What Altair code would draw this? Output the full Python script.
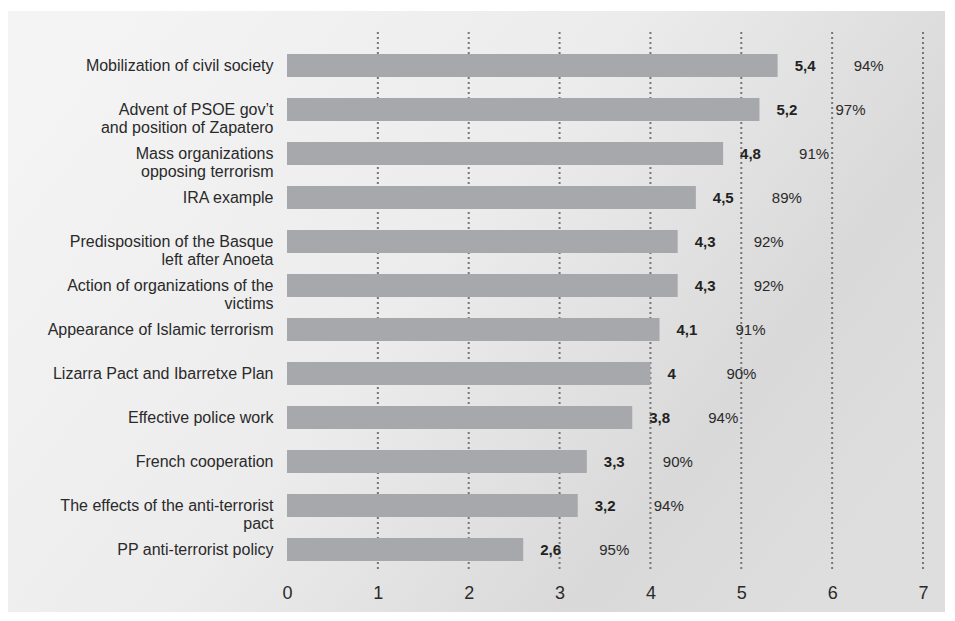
import altair as alt
import pandas as pd

# ---- data ----
categories = [
    "Mobilization of civil society",
    "Advent of PSOE gov’t|and position of Zapatero",
    "Mass organizations|opposing terrorism",
    "IRA example",
    "Predisposition of the Basque|left after Anoeta",
    "Action of organizations of the|victims",
    "Appearance of Islamic terrorism",
    "Lizarra Pact and Ibarretxe Plan",
    "Effective police work",
    "French cooperation",
    "The effects of the anti-terrorist|pact",
    "PP anti-terrorist policy",
]
scores = [5.4, 5.2, 4.8, 4.5, 4.3, 4.3, 4.1, 4.0, 3.8, 3.3, 3.2, 2.6]
percents = [94, 97, 91, 89, 92, 92, 91, 90, 94, 90, 94, 95]
x_ticks = [0, 1, 2, 3, 4, 5, 6, 7]
grid_ticks = [1, 2, 3, 4, 5, 6, 7]

df = pd.DataFrame({
    "cat": categories,
    "score": scores,
    "score_lbl": [f"{v:g}".replace(".", ",") for v in scores],
    "pct_lbl": [f"{p}%" for p in percents],
})
grid_df = pd.DataFrame({"tick": grid_ticks})

W, H = 636, 540
FONT = "Liberation Sans"

x_scale = alt.Scale(domain=[0, 7], nice=False, zero=True)
y_scale = alt.Scale(domain=categories, paddingInner=0.477, paddingOuter=0.375, align=0.667)

# decorative backdrop (photo-like gray gradient)
backdrop = alt.Chart(alt.Data(values=[{"a": 1}])).mark_rect(
    fill=alt.Gradient(
        gradient="linear",
        stops=[
            alt.GradientStop(color="#f4f4f4", offset=0),
            alt.GradientStop(color="#ececec", offset=0.45),
            alt.GradientStop(color="#d9d9d9", offset=0.8),
            alt.GradientStop(color="#dedede", offset=1),
        ],
        x1=0, y1=0.2, x2=1, y2=0.7,
    ),
    strokeWidth=0,
).encode(
    x=alt.value(-279), x2=alt.value(W + 22),
    y=alt.value(-21), y2=alt.value(H + 40),
)

grid = alt.Chart(grid_df).mark_rule(
    color="#777777", strokeWidth=2, strokeDash=[2, 3]
).encode(x=alt.X("tick:Q", scale=x_scale))

base = alt.Chart(df)

bars = base.mark_bar(color="#a7a8ab", cornerRadius=0).encode(
    x=alt.X(
        "score:Q", scale=x_scale, title=None,
        axis=alt.Axis(values=x_ticks, format="d", labelFlush=False,
                      grid=False, domain=False, ticks=False,
                      labelFontSize=18, labelColor="#2a2a2a", labelPadding=12,
                      labelFont=FONT, zindex=1),
    ),
    y=alt.Y(
        "cat:N", scale=y_scale, sort=None, title=None,
        axis=alt.Axis(domain=False, ticks=False, grid=False,
                      labelExpr="split(datum.label, '|')",
                      labelFontSize=16, labelColor="#2a2a2a", labelPadding=14,
                      labelLimit=400, labelLineHeight=18, labelFont=FONT, zindex=1),
    ),
)

score_text = base.mark_text(
    align="left", baseline="middle", dx=17, fontSize=15, fontWeight="bold",
    color="#222222", font=FONT,
).encode(x=alt.X("score:Q", scale=x_scale), y=alt.Y("cat:N", scale=y_scale, sort=None), text="score_lbl:N")

pct_text = base.mark_text(
    align="left", baseline="middle", dx=76, fontSize=15, color="#2a2a2a", font=FONT,
).encode(x=alt.X("score:Q", scale=x_scale), y=alt.Y("cat:N", scale=y_scale, sort=None), text="pct_lbl:N")

chart = alt.layer(backdrop, grid, bars, score_text, pct_text).properties(
    width=W, height=H, background="white",
    padding={"top": 3, "left": 0, "right": 0, "bottom": 0},
).configure_view(stroke=None).configure_axis(labelFont=FONT)

chart.save("out.html", embed_options={"renderer": "svg", "actions": False})
